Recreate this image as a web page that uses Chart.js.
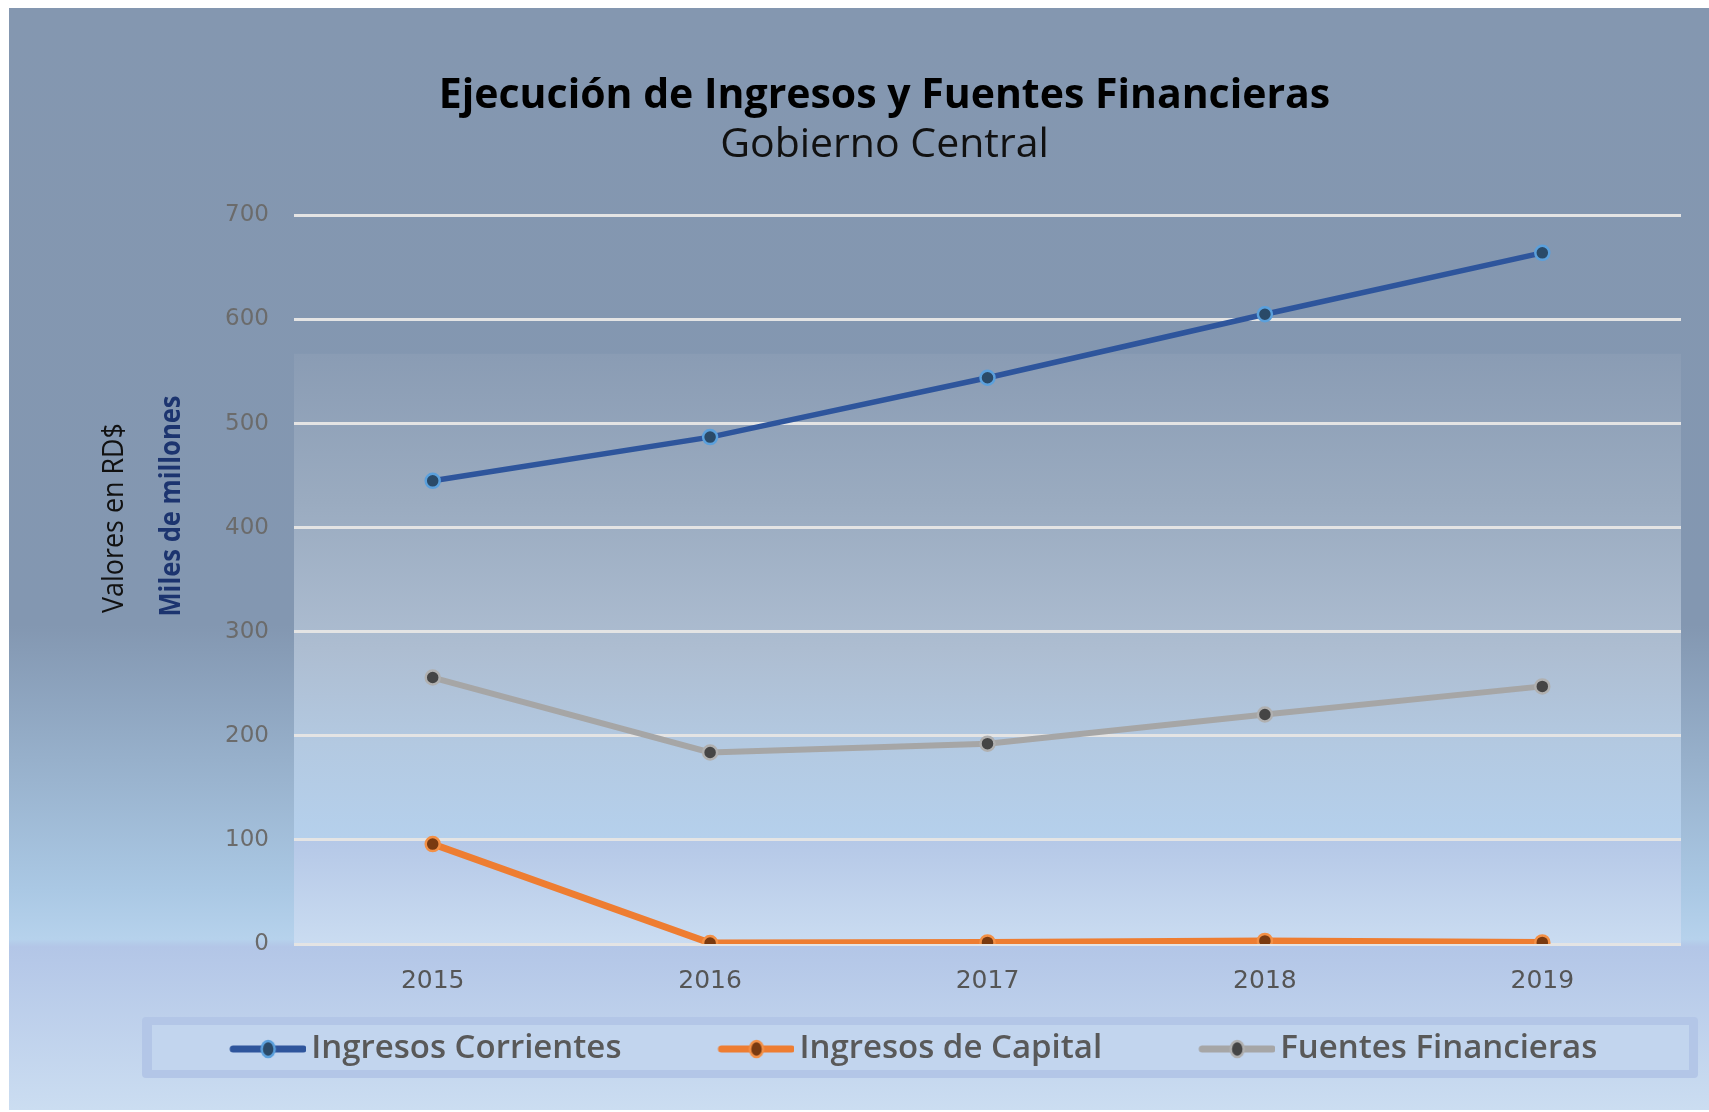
<!DOCTYPE html>
<html>
<head>
<meta charset="utf-8">
<script src="https://cdn.jsdelivr.net/npm/chart.js@4.4.1/dist/chart.umd.min.js"></script>
<style>
  html, body { margin: 0; padding: 0; background: #fff; }
  #wrap { width: 1709px; height: 1112px; position: relative; }
</style>
</head>
<body>
<div id="wrap"><canvas id="chart"></canvas></div>
<script>
// data (miles de millones RD$)
const years = ['2015', '2016', '2017', '2018', '2019'];
const ingresosCorrientes = [445, 487, 544, 605, 664];
const ingresosCapital = [96, 1, 1.5, 3, 1.5];
const fuentesFinancieras = [256, 184, 192.5, 220.5, 247.5];
const seriesNames = ['Ingresos Corrientes', 'Ingresos de Capital', 'Fuentes Financieras'];
const yMin = 0, yMax = 700, yStep = 100;

// legend picture: transparent on the left, line + marker on the right
function legendSample(lineColor, fill, border) {
  const c = document.createElement('canvas');
  c.width = 146; c.height = 20;
  const g = c.getContext('2d');
  g.strokeStyle = lineColor; g.lineWidth = 7; g.lineCap = 'round';
  g.beginPath(); g.moveTo(73, 10); g.lineTo(143, 10); g.stroke();
  g.beginPath(); g.ellipse(108, 10, 6.5, 8, 0, 0, Math.PI * 2);
  g.fillStyle = fill; g.fill();
  g.lineWidth = 2.5; g.strokeStyle = border; g.stroke();
  return c;
}
const samples = [
  legendSample('#2e559c', '#2a4a68', '#5ba0dc'),
  legendSample('#ee7d31', '#7a3a10', '#f39046'),
  legendSample('#a6a6a6', '#454545', '#b0b0b0')
];

const backdrop = {
  id: 'backdrop',
  beforeDraw(chart) {
    const { ctx, chartArea: a } = chart;
    ctx.save();
    ctx.fillStyle = '#fff';
    ctx.fillRect(0, 0, chart.width, chart.height);

    let g = ctx.createLinearGradient(0, 8, 0, 1110);
    g.addColorStop(0, '#8497b0');
    g.addColorStop(0.56, '#8397b1');
    g.addColorStop(0.8, '#aac8e4');
    g.addColorStop(0.845, '#b6d2ec');
    g.addColorStop(0.852, '#b3c6e7');
    g.addColorStop(1, '#cbddf1');
    ctx.fillStyle = g;
    ctx.fillRect(9, 8, chart.width - 9, 1102);

    // plot area fill starts a bit under the 600 line
    const top = a.top + (a.bottom - a.top) * 0.19;
    g = ctx.createLinearGradient(0, top, 0, a.bottom);
    g.addColorStop(0, '#8a9cb4');
    g.addColorStop(0.25, '#9aabc0');
    g.addColorStop(0.5, '#adbdd1');
    g.addColorStop(0.66, '#b3c9e1');
    g.addColorStop(0.82, '#b5d0ec');
    g.addColorStop(0.825, '#b5c8e7');
    g.addColorStop(1, '#cadcf1');
    ctx.fillStyle = g;
    ctx.fillRect(a.left, top, a.right - a.left, a.bottom - top);

    // legend frame
    ctx.fillStyle = '#b3c6e7';
    ctx.beginPath();
    ctx.roundRect(142, 1017, chart.width - 11 - 142, 61, 4);
    ctx.fill();
    ctx.fillStyle = '#c2d5ee';
    ctx.fillRect(152, 1025, chart.width - 20 - 152, 45);
    ctx.restore();
  }
};

const axisTitles = {
  id: 'axisTitles',
  afterDraw(chart) {
    const ctx = chart.ctx;
    ctx.save();
    ctx.textAlign = 'center';
    ctx.textBaseline = 'middle';
    ctx.translate(115, 518);
    ctx.rotate(-Math.PI / 2);
    ctx.font = '29px "Open Sans"';
    ctx.fillStyle = '#111';
    ctx.fillText('Valores en RD$', 0, 0, 190);
    ctx.restore();

    ctx.save();
    ctx.textAlign = 'center';
    ctx.textBaseline = 'middle';
    ctx.translate(172, 506);
    ctx.rotate(-Math.PI / 2);
    ctx.font = 'bold 29px "Open Sans"';
    ctx.fillStyle = '#1c346f';
    ctx.fillText('Miles de millones', 0, 0, 221);
    ctx.restore();
  }
};

new Chart(document.getElementById('chart'), {
  type: 'line',
  data: {
    labels: years,
    datasets: [
      {
        label: seriesNames[0],
        data: ingresosCorrientes,
        borderColor: '#2e559c',
        borderWidth: 5.5,
        pointRadius: 7,
        pointBackgroundColor: '#2a4a68',
        pointBorderColor: '#5ba0dc',
        pointBorderWidth: 2.5,
        tension: 0
      },
      {
        label: seriesNames[1],
        data: ingresosCapital,
        borderColor: '#ee7d31',
        borderWidth: 7,
        pointRadius: 7,
        pointBackgroundColor: '#7a3a10',
        pointBorderColor: '#f39046',
        pointBorderWidth: 2.5,
        tension: 0
      },
      {
        label: seriesNames[2],
        data: fuentesFinancieras,
        borderColor: '#a6a6a6',
        borderWidth: 6,
        pointRadius: 7,
        pointBackgroundColor: '#454545',
        pointBorderColor: '#b0b0b0',
        pointBorderWidth: 2.5,
        tension: 0
      }
    ]
  },
  options: {
    responsive: true,
    maintainAspectRatio: false,
    devicePixelRatio: 1,
    animation: false,
    events: [],
    layout: { padding: { left: 88, right: 28, top: 0, bottom: 36.5 } },
    scales: {
      x: {
        offset: true,
        grid: { display: false, drawTicks: false },
        border: { display: false },
        ticks: { color: '#555', font: { family: 'DejaVu Sans', size: 25 }, padding: 22 },
        afterFit(s) { s.height = 50; }
      },
      y: {
        min: yMin,
        max: yMax,
        ticks: { stepSize: yStep, color: '#6b6b6b', font: { family: 'DejaVu Sans', size: 23 }, padding: 25 },
        grid: { color: '#e4e4e4', lineWidth: 3, drawTicks: false },
        border: { display: false },
        afterFit(s) { s.width = 206; }
      }
    },
    plugins: {
      title: {
        display: true,
        text: 'Ejecución de Ingresos y Fuentes Financieras',
        color: '#000',
        font: { family: 'Open Sans', size: 41, weight: 'bold', lineHeight: 1.2 },
        padding: { top: 72, bottom: 0 }
      },
      subtitle: {
        display: true,
        text: 'Gobierno Central',
        color: '#111',
        font: { family: 'Open Sans', size: 41, weight: 'normal', lineHeight: 1.2 },
        padding: { top: 0, bottom: 45 }
      },
      legend: {
        position: 'bottom',
        labels: {
          usePointStyle: true,
          pointStyleWidth: 123,
          padding: 38.5,
          color: '#595959',
          font: { family: 'Open Sans', size: 33, weight: '600' },
          generateLabels(chart) {
            const items = Chart.defaults.plugins.legend.labels.generateLabels(chart);
            items.forEach((it, i) => { it.pointStyle = samples[i]; });
            return items;
          }
        }
      },
      tooltip: { enabled: false }
    }
  },
  plugins: [backdrop, axisTitles]
});
</script>
</body>
</html>
